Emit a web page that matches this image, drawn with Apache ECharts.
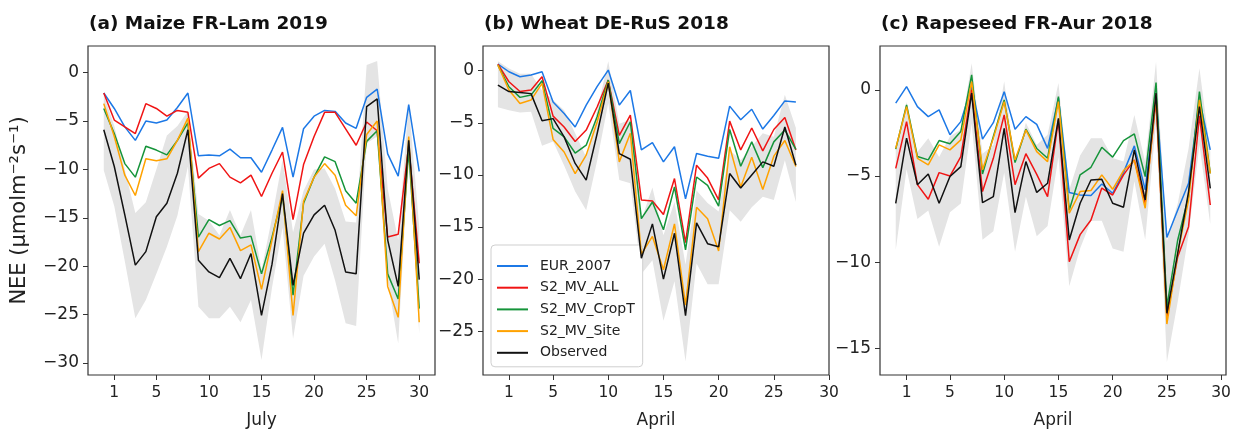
<!DOCTYPE html>
<html>
<head>
<meta charset="utf-8">
<script src="https://cdn.jsdelivr.net/npm/echarts@6/dist/echarts.min.js"></script>
<style>
  html, body { margin: 0; background: #fff; }
  #chart { width: 1236px; height: 431px; }
</style>
</head>
<body>
<div id="chart"></div>
<script>
// days since the start of each month (0 = last day of the previous month)
const daysA = [0,1,2,3,4,5,6,7,8,9,10,11,12,13,14,15,16,17,18,19,20,21,22,23,24,25,26,27,28,29,30];
const daysB = [0,1,2,3,4,5,6,7,8,9,10,11,12,13,14,15,16,17,18,19,20,21,22,23,24,25,26,27];
const daysC = [0,1,2,3,4,5,6,7,8,9,10,11,12,13,14,15,16,17,18,19,20,21,22,23,24,25,26,27,28,29];
const dayTicks = [1,5,10,15,20,25,30];

const seriesNames = ['EUR_2007','S2_MV_ALL','S2_MV_CropT','S2_MV_Site','Observed'];
const seriesColors = ['#1c78e6','#f01414','#15943a','#ffa200','#111111'];

// (a) Maize FR-Lam 2019
const eurA   = [-2.1,-3.7,-5.6,-7.0,-5.0,-5.2,-4.9,-3.6,-2.1,-8.6,-8.5,-8.6,-7.9,-8.8,-8.8,-10.3,-8.0,-5.65,-10.8,-5.8,-4.5,-3.9,-4.0,-5.2,-5.75,-2.55,-1.7,-8.4,-10.7,-3.3,-10.2];
const allA   = [-2.1,-4.9,-5.6,-6.3,-3.2,-3.7,-4.5,-3.9,-4.1,-10.9,-9.9,-9.4,-10.8,-11.4,-10.6,-12.8,-10.4,-8.2,-15.2,-9.5,-6.6,-4.1,-4.1,-5.8,-7.5,-5.1,-6.0,-17.0,-16.7,-7.5,-19.7];
const cropA  = [-3.7,-6.3,-9.4,-10.8,-7.6,-8.0,-8.5,-7.0,-5.2,-17.0,-15.2,-15.8,-15.3,-17.1,-16.9,-20.8,-17.0,-12.7,-23.0,-13.5,-10.8,-8.7,-9.2,-12.2,-13.5,-7.1,-6.0,-20.8,-23.4,-8.0,-24.4];
const siteA  = [-3.2,-6.6,-10.6,-12.7,-8.9,-9.1,-8.9,-7.0,-4.7,-18.5,-16.6,-17.2,-16.0,-18.4,-17.8,-22.4,-17.3,-12.2,-25.1,-13.3,-10.8,-9.4,-10.6,-13.7,-14.8,-6.4,-5.0,-22.1,-25.3,-6.6,-25.8];
const obsA   = [-5.9,-9.7,-14.7,-19.9,-18.5,-14.9,-13.5,-10.4,-5.9,-19.4,-20.6,-21.2,-19.2,-21.3,-18.7,-25.1,-19.8,-12.5,-22.0,-16.6,-14.7,-13.7,-16.3,-20.6,-20.8,-3.5,-2.7,-17.3,-22.1,-7.0,-21.4];
const obsHiA = [-2.3,-5.5,-10.0,-14.5,-13.4,-10.0,-6.5,-5.5,-4.0,-14.6,-15.3,-16.8,-14.2,-16.8,-14.2,-20.4,-15.0,-9.0,-16.5,-12.2,-10.0,-9.9,-12.0,-15.4,-15.5,0.8,1.2,-12.0,-17.3,-3.0,-16.0];
const obsLoA = [-10.1,-13.8,-19.5,-25.4,-23.5,-20.8,-18.0,-14.8,-9.7,-24.2,-25.4,-25.4,-24.2,-25.8,-23.5,-29.7,-22.2,-16.0,-27.5,-21.0,-19.0,-17.7,-21.5,-25.9,-26.2,-7.3,-6.6,-21.5,-28.0,-8.3,-27.0];

// (b) Wheat DE-RuS 2018
const eurB   = [0.64,-0.1,-0.58,-0.42,-0.1,-3.0,-4.1,-5.4,-3.3,-1.5,0.06,-3.3,-1.9,-7.6,-6.9,-8.75,-7.3,-12.3,-7.95,-8.2,-8.4,-3.4,-4.7,-3.7,-5.6,-4.3,-2.9,-3.0];
const allB   = [0.64,-1.06,-2.0,-1.86,-0.58,-4.36,-5.4,-6.8,-5.7,-3.46,-0.9,-6.2,-4.26,-12.4,-12.5,-13.8,-10.35,-16.5,-9.07,-10.3,-12.4,-4.84,-7.6,-5.5,-7.7,-5.64,-4.5,-7.6];
const cropB  = [0.54,-1.54,-2.56,-2.34,-0.96,-5.54,-6.35,-7.9,-7.15,-4.4,-0.9,-7.0,-4.9,-14.2,-12.6,-15.26,-11.15,-17.2,-10.2,-11.0,-13.0,-5.64,-9.17,-6.83,-9.3,-6.83,-5.7,-7.56];
const siteB  = [0.54,-1.86,-3.14,-2.82,-1.22,-6.6,-7.8,-9.87,-8.1,-4.9,-1.06,-8.75,-6.0,-17.6,-15.9,-19.1,-14.7,-22.5,-13.1,-14.2,-17.3,-7.3,-11.15,-8.3,-11.4,-8.2,-6.7,-9.2];
const obsB   = [-1.38,-2.0,-2.1,-2.2,-4.8,-4.6,-6.35,-8.9,-10.5,-6.0,-1.2,-7.95,-8.5,-18.0,-14.7,-20.0,-15.6,-23.5,-14.6,-16.6,-16.9,-9.87,-11.25,-10.0,-8.75,-9.17,-5.4,-9.07];
const obsHiB = [0.9,0.2,-0.3,-0.3,-1.9,-2.8,-3.8,-6.0,-8.3,-3.8,0.9,-5.1,-4.7,-14.3,-11.2,-15.8,-12.6,-18.6,-11.5,-12.7,-13.5,-7.6,-8.6,-7.3,-6.0,-6.35,-2.3,-5.5];
const obsLoB = [-3.5,-3.8,-4.0,-3.95,-7.2,-6.8,-9.1,-11.6,-13.4,-8.6,-3.1,-10.5,-10.8,-19.5,-18.2,-24.0,-20.2,-27.9,-18.5,-20.5,-20.5,-13.4,-14.5,-13.1,-12.1,-12.4,-8.6,-12.6];

// (c) Rapeseed FR-Aur 2018
const eurC   = [-0.77,0.19,-0.97,-1.55,-1.16,-2.6,-1.84,0.2,-2.86,-1.9,-0.1,-2.28,-1.55,-2.0,-3.39,-0.48,-5.96,-6.1,-6.13,-5.46,-6.0,-4.8,-3.25,-5.8,-0.4,-8.57,-6.97,-5.42,-0.55,-3.48];
const allC   = [-4.55,-1.84,-5.5,-6.35,-4.8,-5.0,-3.87,0.0,-5.9,-3.97,-1.45,-5.5,-3.7,-4.9,-6.19,-1.74,-9.97,-8.4,-7.55,-5.7,-6.1,-4.93,-4.06,-6.58,-0.58,-13.16,-9.68,-7.94,-1.5,-6.68];
const cropC  = [-3.44,-0.87,-3.87,-4.06,-2.94,-3.13,-2.42,0.87,-4.88,-2.7,-0.58,-4.22,-2.28,-3.4,-3.97,-0.39,-6.97,-4.93,-4.49,-3.33,-3.9,-2.94,-2.55,-5.03,0.43,-12.58,-8.71,-6.19,-0.1,-4.84];
const siteC  = [-3.39,-0.97,-3.97,-4.35,-3.19,-3.48,-2.9,0.48,-4.64,-2.8,-0.68,-4.06,-2.32,-3.58,-4.16,-0.68,-7.16,-5.9,-5.84,-4.93,-5.77,-4.68,-4.1,-6.87,-0.29,-13.59,-9.48,-6.39,-0.58,-4.84];
const obsC   = [-6.58,-2.8,-5.5,-4.88,-6.58,-5.03,-4.45,-0.19,-6.54,-6.19,-2.23,-7.12,-4.16,-5.95,-5.42,-1.65,-8.71,-6.58,-5.23,-5.19,-6.58,-6.81,-3.48,-6.39,-0.19,-12.97,-9.48,-5.9,-0.97,-5.71];
const obsHiC = [-3.4,-0.7,-3.6,-2.8,-3.9,-2.7,-2.3,1.55,-3.7,-3.2,0.5,-4.3,-1.9,-3.2,-2.6,0.4,-5.8,-3.8,-2.8,-2.8,-3.95,-4.15,-1.45,-4.2,1.64,-8.8,-6.6,-3.4,1.26,-3.6];
const obsLoC = [-9.3,-4.6,-7.5,-7.0,-9.1,-7.1,-6.6,-1.95,-8.7,-8.2,-4.8,-9.4,-6.2,-8.5,-7.9,-3.9,-11.4,-9.2,-7.6,-7.6,-9.2,-9.4,-5.3,-8.7,-1.9,-15.8,-12.3,-8.4,-3.2,-7.8];

const panels = [
  { title: '(a) Maize FR-Lam 2019', month: 'July', days: daysA, lines: [eurA, allA, cropA, siteA, obsA], hi: obsHiA, lo: obsLoA,
    left: 88, width: 347, xMin: -1.5, xMax: 31.5, yMin: -31.26, yMax: 2.76, yTicks: [-30,-25,-20,-15,-10,-5,0] },
  { title: '(b) Wheat DE-RuS 2018', month: 'April', days: daysB, lines: [eurB, allB, cropB, siteB, obsB], hi: obsHiB, lo: obsLoB,
    left: 483, width: 346, xMin: -1.35, xMax: 30, yMin: -29.2, yMax: 2.37, yTicks: [-25,-20,-15,-10,-5,0] },
  { title: '(c) Rapeseed FR-Aur 2018', month: 'April', days: daysC, lines: [eurC, allC, cropC, siteC, obsC], hi: obsHiC, lo: obsLoC,
    left: 880, width: 346, xMin: -1.45, xMax: 30.45, yMin: -16.55, yMax: 2.55, yTicks: [-15,-10,-5,0] }
];

const font = 'DejaVu Sans';
const chart = echarts.init(document.getElementById('chart'));

const titles = [], grids = [], xAxes = [], yAxes = [], series = [];
panels.forEach(function (p, i) {
  titles.push({
    text: p.title, left: p.left - 4, top: 10,
    textStyle: { fontFamily: font, fontSize: 18.5, fontWeight: 'bold', color: '#111' }
  });
  grids.push({ left: p.left, top: 46, width: p.width, height: 329, show: true, borderColor: '#333', borderWidth: 1.2,
    containLabel: false, outerBoundsMode: 'none' });
  xAxes.push({
    type: 'value', gridIndex: i, min: p.xMin, max: p.xMax,
    name: p.month, nameLocation: 'middle', nameGap: 37,
    nameTextStyle: { fontFamily: font, fontSize: 17, color: '#222' },
    axisLine: { show: false, onZero: false },
    axisTick: { show: true, length: 5, customValues: dayTicks, lineStyle: { color: '#333' } },
    axisLabel: { customValues: dayTicks, margin: 10, fontFamily: font, fontSize: 15.5, color: '#222' },
    splitLine: { show: false }
  });
  yAxes.push({
    type: 'value', gridIndex: i, min: p.yMin, max: p.yMax,
    name: i === 0 ? 'NEE (μmolm⁻²s⁻¹)' : '', nameLocation: 'middle', nameGap: 58, nameRotate: 90,
    nameTextStyle: { fontFamily: font, fontSize: 21, color: '#222' },
    axisLine: { show: false, onZero: false },
    axisTick: { show: true, length: 5, customValues: p.yTicks, lineStyle: { color: '#333' } },
    axisLabel: { customValues: p.yTicks, margin: 9, fontFamily: font, fontSize: 17, color: '#222',
      formatter: function (v) { return String(v).replace('-', '\u2212'); } },
    splitLine: { show: false }
  });
  // grey band of the observation spread
  series.push({
    type: 'custom', name: 'band' + i, xAxisIndex: i, yAxisIndex: i, silent: true, z: 1,
    data: p.days.map(function (d, k) { return [d, p.lo[k], p.hi[k]]; }),
    encode: { x: 0, y: [1, 2] },
    renderItem: function (params, api) {
      if (params.dataIndex !== 0) return null;
      const pts = [];
      for (let k = 0; k < p.days.length; k++) pts.push(api.coord([p.days[k], p.hi[k]]));
      for (let k = p.days.length - 1; k >= 0; k--) pts.push(api.coord([p.days[k], p.lo[k]]));
      return { type: 'polygon', shape: { points: pts }, style: { fill: '#e4e4e4' } };
    }
  });
  p.lines.forEach(function (vals, j) {
    series.push({
      type: 'line', name: seriesNames[j], xAxisIndex: i, yAxisIndex: i, z: 2 + j,
      data: p.days.map(function (d, k) { return [d, vals[k]]; }),
      showSymbol: false, symbol: 'none', animation: false,
      lineStyle: { color: seriesColors[j], width: 1.5 },
      itemStyle: { color: seriesColors[j] }
    });
  });
});

chart.setOption({
  animation: false,
  title: titles,
  grid: grids,
  xAxis: xAxes,
  yAxis: yAxes,
  legend: {
    data: seriesNames, orient: 'vertical', left: 491, top: 245,
    icon: 'rect', itemWidth: 31, itemHeight: 2, itemGap: 3.7,
    backgroundColor: '#fff', borderColor: '#cfcfcf', borderWidth: 1, borderRadius: 4,
    padding: [12, 8, 5, 6],
    textStyle: { fontFamily: font, fontSize: 14, color: '#222', lineHeight: 18, padding: [0, 0, 0, 7] }
  },
  series: series
});
</script>
</body>
</html>
